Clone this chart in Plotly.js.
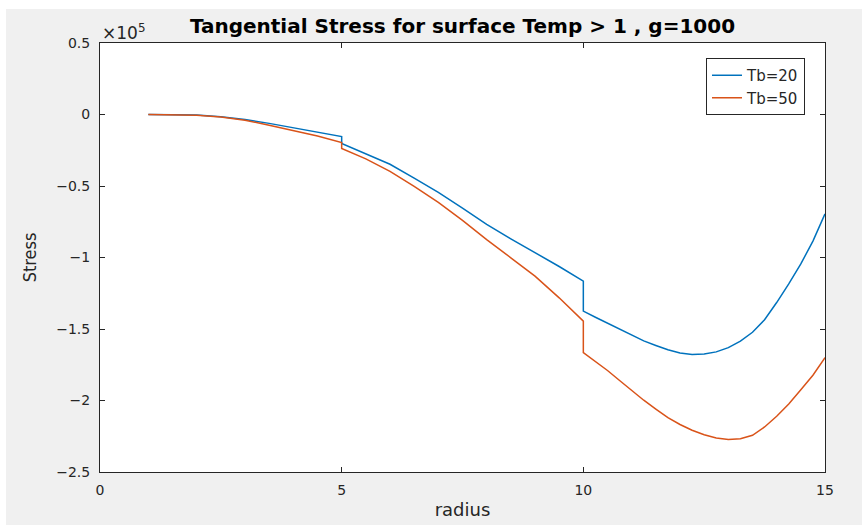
<!DOCTYPE html>
<html>
<head>
<meta charset="utf-8">
<script src="https://cdn.plot.ly/plotly-3.0.1.min.js"></script>
<style>
  html, body { margin: 0; padding: 0; background: #ffffff; width: 862px; height: 525px; overflow: hidden; }
  #chart { position: absolute; left: 6px; top: 9px; width: 856px; height: 516px; }
</style>
</head>
<body>
<div id="chart"></div>
<script>
// radius values (duplicates at 5 and 10 mark the jumps)
const radius = [1, 1.5, 2, 2.5, 3, 3.5, 4, 4.5, 5, 5, 5.5, 6, 6.5, 7, 7.5, 8, 8.5, 9, 9.5, 10, 10,
                10.25, 10.5, 10.75, 11, 11.25, 11.5, 11.75, 12, 12.25, 12.5, 12.75, 13, 13.25, 13.5,
                13.75, 14, 14.25, 14.5, 14.75, 15];
// Tb = 20 tangential stress
const stressTb20 = [0, -100, -400, -1500, -3500, -6200, -9200, -12300, -15400, -20300, -27500, -34800,
                    -44500, -54500, -65500, -76800, -86900, -96500, -106300, -116500, -137500,
                    -141800, -146000, -150400, -154500, -158300, -161500, -164500, -166800, -167800,
                    -167400, -166000, -163000, -158500, -152300, -143500, -131500, -118500, -104500,
                    -88500, -69500];
// Tb = 50 tangential stress
const stressTb50 = [0, -100, -450, -1800, -4000, -7500, -11000, -15000, -19600, -23800, -31000, -39800,
                    -50300, -61500, -74100, -87500, -100200, -113000, -128200, -144500, -166500,
                    -172500, -179000, -186000, -193000, -199800, -206000, -212000, -216800, -220800,
                    -224000, -226200, -227200, -226800, -224300, -218500, -211000, -202500, -192500,
                    -182300, -170000];
const seriesNames = ['Tb=20', 'Tb=50'];
const yTickVals = [-250000, -200000, -150000, -100000, -50000, 0, 50000];
const yTickText = ['\u22122.5', '\u22122', '\u22121.5', '\u22121', '\u22120.5', '0', '0.5'];
const xTickVals = [0, 5, 10, 15];

const axisColor = '#262626';
const tickFont = { family: 'DejaVu Sans, sans-serif', size: 14, color: axisColor };

const traces = [
  { x: radius, y: stressTb20, type: 'scatter', mode: 'lines', name: seriesNames[0],
    line: { color: '#0072BD', width: 1.5 } },
  { x: radius, y: stressTb50, type: 'scatter', mode: 'lines', name: seriesNames[1],
    line: { color: '#D95319', width: 1.5 } }
];

const layout = {
  width: 856, height: 516,
  paper_bgcolor: '#f0f0f0',
  plot_bgcolor: '#ffffff',
  margin: { l: 94, r: 37, t: 34, b: 53, pad: 0 },
  title: {
    text: '<b>Tangential Stress for surface Temp > 1 , g=1000</b>',
    font: { family: 'DejaVu Sans, sans-serif', size: 20, color: '#000000' },
    x: 0.5, xref: 'paper', xanchor: 'center',
    y: 1 - 17 / 516, yref: 'container', yanchor: 'middle'
  },
  xaxis: {
    range: [0, 15], tickvals: xTickVals, ticktext: xTickVals.map(String),
    showgrid: false, zeroline: false,
    showline: true, linecolor: axisColor, linewidth: 1, mirror: 'ticks',
    ticks: 'inside', ticklen: 5, tickcolor: axisColor, tickwidth: 1,
    tickfont: tickFont, ticklabelstandoff: 5,
    title: { text: 'radius', font: { family: 'DejaVu Sans, sans-serif', size: 18, color: axisColor }, standoff: 6 }
  },
  yaxis: {
    range: [-250000, 50000], tickvals: yTickVals, ticktext: yTickText,
    showgrid: false, zeroline: false,
    showline: true, linecolor: axisColor, linewidth: 1, mirror: 'ticks',
    ticks: 'inside', ticklen: 5, tickcolor: axisColor, tickwidth: 1,
    tickfont: tickFont, ticklabelstandoff: 6,
    title: { text: 'Stress', font: { family: 'DejaVu Sans Condensed, DejaVu Sans, sans-serif', size: 18, color: axisColor }, standoff: 14 }
  },
  legend: {
    x: 0.9724, xanchor: 'right', y: 0.965, yanchor: 'top',
    bgcolor: '#ffffff', bordercolor: axisColor, borderwidth: 1,
    font: { family: 'DejaVu Sans, sans-serif', size: 15, color: axisColor },
    tracegroupgap: 0, itemwidth: 30
  },
  annotations: [{
    text: '\u00d710<sup>5</sup>', xref: 'paper', yref: 'paper', x: 0, y: 1,
    xanchor: 'left', yanchor: 'bottom', yshift: -2, xshift: 0, showarrow: false,
    font: { family: 'DejaVu Sans, sans-serif', size: 17, color: axisColor }
  }],
  showlegend: true
};

Plotly.newPlot('chart', traces, layout, { displayModeBar: false, staticPlot: true });
</script>
</body>
</html>
